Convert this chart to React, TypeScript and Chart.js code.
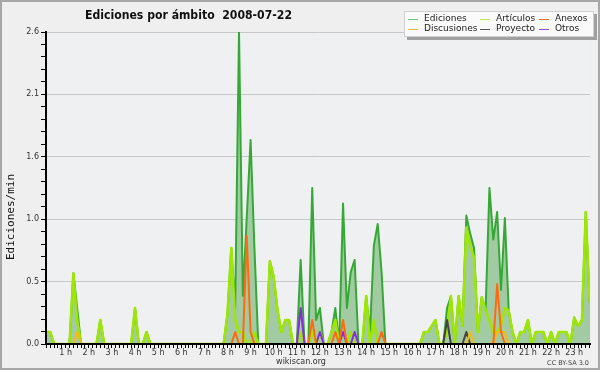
import { useEffect, useRef } from 'react';
import { Chart, registerables } from 'chart.js';
Chart.register(...registerables);

const TITLE = 'Ediciones por ámbito  2008-07-22';
const Y_TITLE = 'Ediciones/min';
const FOOTER = 'wikiscan.org';
const LICENSE = 'CC BY-SA 3.0';

const hourLabels = ['0 h', '1 h', '2 h', '3 h', '4 h', '5 h', '6 h', '7 h', '8 h', '9 h', '10 h', '11 h',
  '12 h', '13 h', '14 h', '15 h', '16 h', '17 h', '18 h', '19 h', '20 h', '21 h', '22 h', '23 h'];

const Y_MAX = 2.6;

// Edits per minute in 10-minute slots (6 per hour, 144 per day)
const ediciones = [
  0.1, 0.1, 0.1, 0, 0, 0, 0, 0, 0.59, 0.3, 0, 0,
  0, 0, 0, 0.2, 0, 0, 0, 0, 0, 0, 0, 0,
  0.3, 0, 0, 0.1, 0, 0, 0, 0, 0, 0, 0, 0,
  0, 0, 0, 0, 0, 0, 0, 0, 0, 0, 0, 0,
  0.25, 0.8, 0.3, 2.6, 0.4, 1.05, 1.7, 0.8, 0, 0, 0, 0.69,
  0.56, 0.28, 0.1, 0.2, 0.2, 0, 0, 0.7, 0, 0, 1.3, 0.2,
  0.3, 0, 0, 0.1, 0.3, 0, 1.17, 0.3, 0.6, 0.7, 0, 0,
  0.4, 0.1, 0.82, 1.0, 0.6, 0, 0, 0, 0, 0, 0, 0,
  0, 0, 0, 0.1, 0.1, 0.15, 0.2, 0, 0, 0.3, 0.4, 0,
  0.4, 0.15, 1.07, 0.92, 0.8, 0.1, 0.39, 0.28, 1.3, 0.87, 1.1, 0.45,
  1.05, 0.28, 0.1, 0, 0.1, 0.1, 0.2, 0, 0.1, 0.1, 0.1, 0,
  0.1, 0, 0.1, 0.1, 0.1, 0, 0.22, 0.15, 0.2, 1.1, 0.35, 0.3,
];

const articulos = [
  0.1, 0.1, 0.1, 0, 0, 0, 0, 0, 0.59, 0.2, 0, 0,
  0, 0, 0, 0.2, 0, 0, 0, 0, 0, 0, 0, 0,
  0.3, 0, 0, 0.1, 0, 0, 0, 0, 0, 0, 0, 0,
  0, 0, 0, 0, 0, 0, 0, 0, 0, 0, 0, 0,
  0.25, 0.8, 0.2, 0.1, 0.1, 0, 0, 0.1, 0, 0, 0, 0.69,
  0.56, 0.28, 0.1, 0.2, 0.2, 0, 0, 0.1, 0, 0, 0.1, 0,
  0.1, 0, 0, 0.1, 0.2, 0, 0.1, 0, 0.1, 0, 0, 0,
  0.4, 0, 0.2, 0, 0, 0, 0, 0, 0, 0, 0, 0,
  0, 0, 0, 0.1, 0.1, 0.15, 0.2, 0, 0, 0.1, 0.4, 0,
  0.4, 0.15, 0.97, 0.82, 0.72, 0.1, 0.39, 0.28, 0.2, 0.1, 0.1, 0.15,
  0.3, 0.28, 0.1, 0, 0.1, 0.1, 0.2, 0, 0.1, 0.1, 0.1, 0,
  0.1, 0, 0.1, 0.1, 0.1, 0, 0.22, 0.15, 0.2, 1.1, 0.35, 0.3,
];

const anexos = [
  0, 0, 0, 0, 0, 0, 0, 0, 0, 0, 0, 0,
  0, 0, 0, 0, 0, 0, 0, 0, 0, 0, 0, 0,
  0, 0, 0, 0, 0, 0, 0, 0, 0, 0, 0, 0,
  0, 0, 0, 0, 0, 0, 0, 0, 0, 0, 0, 0,
  0, 0, 0.1, 0, 0, 0.9, 0.1, 0, 0, 0, 0, 0,
  0, 0, 0, 0, 0, 0, 0, 0, 0, 0, 0.2, 0,
  0, 0, 0, 0, 0.1, 0, 0.2, 0, 0, 0, 0, 0,
  0, 0, 0, 0, 0.1, 0, 0, 0, 0, 0, 0, 0,
  0, 0, 0, 0, 0, 0, 0, 0, 0, 0, 0, 0,
  0, 0, 0, 0, 0, 0, 0, 0, 0, 0, 0.5, 0.1,
  0, 0, 0, 0, 0, 0, 0, 0, 0, 0, 0, 0,
  0, 0, 0, 0, 0, 0, 0, 0, 0, 0, 0, 0,
];

const discusiones = [
  0, 0, 0, 0, 0, 0, 0, 0, 0, 0.1, 0, 0,
  0, 0, 0, 0, 0, 0, 0, 0, 0, 0, 0, 0,
  0, 0, 0, 0, 0, 0, 0, 0, 0, 0, 0, 0,
  0, 0, 0, 0, 0, 0, 0, 0, 0, 0, 0, 0,
  0, 0, 0, 0, 0, 0, 0, 0, 0, 0, 0, 0,
  0, 0, 0, 0, 0, 0, 0, 0, 0, 0, 0, 0,
  0, 0, 0, 0, 0, 0, 0, 0, 0, 0, 0, 0,
  0, 0, 0, 0, 0, 0, 0, 0, 0, 0, 0, 0,
  0, 0, 0, 0, 0, 0, 0, 0, 0, 0, 0, 0,
  0, 0, 0, 0.1, 0, 0, 0, 0, 0, 0, 0.1, 0.1,
  0.1, 0, 0, 0, 0, 0, 0, 0, 0, 0, 0, 0,
  0, 0, 0, 0, 0, 0, 0, 0, 0, 0, 0, 0,
];

const proyecto = [
  0, 0, 0, 0, 0, 0, 0, 0, 0, 0, 0, 0,
  0, 0, 0, 0, 0, 0, 0, 0, 0, 0, 0, 0,
  0, 0, 0, 0, 0, 0, 0, 0, 0, 0, 0, 0,
  0, 0, 0, 0, 0, 0, 0, 0, 0, 0, 0, 0,
  0, 0, 0, 0, 0, 0, 0, 0, 0, 0, 0, 0,
  0, 0, 0, 0, 0, 0, 0, 0, 0, 0, 0, 0,
  0, 0, 0, 0, 0, 0, 0, 0, 0, 0, 0, 0,
  0, 0, 0, 0, 0, 0, 0, 0, 0, 0, 0, 0,
  0, 0, 0, 0, 0, 0, 0, 0, 0, 0.2, 0, 0,
  0, 0, 0.1, 0, 0, 0, 0, 0, 0, 0, 0, 0,
  0, 0, 0, 0, 0, 0, 0, 0, 0, 0, 0, 0,
  0, 0, 0, 0, 0, 0, 0, 0, 0, 0, 0, 0,
];

const otros = [
  0, 0, 0, 0, 0, 0, 0, 0, 0, 0, 0, 0,
  0, 0, 0, 0, 0, 0, 0, 0, 0, 0, 0, 0,
  0, 0, 0, 0, 0, 0, 0, 0, 0, 0, 0, 0,
  0, 0, 0, 0, 0, 0, 0, 0, 0, 0, 0, 0,
  0, 0, 0, 0, 0, 0, 0, 0, 0, 0, 0, 0,
  0, 0, 0, 0, 0, 0, 0, 0.3, 0, 0, 0, 0,
  0.1, 0, 0, 0, 0, 0, 0.1, 0, 0, 0.1, 0, 0,
  0, 0, 0, 0, 0, 0, 0, 0, 0, 0, 0, 0,
  0, 0, 0, 0, 0, 0, 0, 0, 0, 0, 0, 0,
  0, 0, 0, 0, 0, 0, 0, 0, 0, 0, 0, 0,
  0, 0, 0, 0, 0, 0, 0, 0, 0, 0, 0, 0,
  0, 0, 0, 0, 0, 0, 0, 0, 0, 0, 0, 0,
];

// slot start time in hours
const slotHours = ediciones.map((_, i) => i / 6);

const seriesNames = ['Ediciones', 'Artículos', 'Anexos', 'Discusiones', 'Proyecto', 'Otros'];
const seriesColors = ['#36a836', '#9fe600', '#ff6a10', '#f5bb10', '#444444', '#8a2be2'];
const legendColors = ['#7cc47c', '#c2ea50', '#ee7a40', '#f0c440', '#555555', '#9a55ee'];

const decorPlugin = {
  id: 'decor',
  beforeDraw(chart: any) {
    const { ctx, chartArea: a } = chart;
    ctx.save();
    ctx.fillStyle = '#efefef';
    ctx.fillRect(0, 0, chart.width, chart.height);
    ctx.fillStyle = '#eef0f2';
    ctx.fillRect(a.left, a.top, a.right - a.left, a.bottom - a.top);
    ctx.restore();
  },
  afterDraw(chart: any) {
    const ctx = chart.ctx;
    ctx.save();
    // title
    ctx.fillStyle = '#111';
    ctx.font = 'bold 12px "DejaVu Sans"';
    ctx.textBaseline = 'alphabetic';
    ctx.textAlign = 'left';
    const w = ctx.measureText(TITLE).width;
    ctx.save();
    ctx.translate(85, 18.5);
    ctx.scale(Math.min(1, 207 / w), 1);
    ctx.fillText(TITLE, 0, 0);
    ctx.restore();

    // y title
    ctx.save();
    ctx.translate(14, 217);
    ctx.rotate(-Math.PI / 2);
    ctx.font = '11px "DejaVu Sans Mono"';
    ctx.textAlign = 'center';
    ctx.textBaseline = 'alphabetic';
    ctx.fillStyle = '#111';
    ctx.fillText(Y_TITLE, 0, 0);
    ctx.restore();

    // footer
    ctx.font = '8px "DejaVu Sans"';
    ctx.textAlign = 'center';
    ctx.fillStyle = '#333';
    ctx.fillText(FOOTER, 301, 363.5);
    ctx.font = '6.5px "DejaVu Sans"';
    ctx.textAlign = 'right';
    ctx.fillStyle = '#444';
    ctx.fillText(LICENSE, 589, 365);

    // legend
    const lx = 404, ly = 11, lw = 190, lh = 26;
    ctx.fillStyle = '#a0a0a0';
    ctx.fillRect(lx + 3, ly + 3, lw, lh);
    ctx.fillStyle = '#fafafa';
    ctx.fillRect(lx, ly, lw, lh);
    ctx.strokeStyle = '#d0d0d0';
    ctx.lineWidth = 1;
    ctx.strokeRect(lx + 0.5, ly + 0.5, lw - 1, lh - 1);
    const cols = [408, 480, 539];
    const rows = [18.5, 29];
    ctx.font = '9px "DejaVu Sans"';
    ctx.textAlign = 'left';
    ctx.textBaseline = 'middle';
    chart.data.datasets.forEach((ds: any, i: number) => {
      const cx = cols[i % 3];
      const cy = rows[Math.floor(i / 3)];
      ctx.strokeStyle = legendColors[i];
      ctx.lineWidth = 1;
      ctx.beginPath();
      ctx.moveTo(cx, Math.round(cy) + 0.5);
      ctx.lineTo(cx + 10, Math.round(cy) + 0.5);
      ctx.stroke();
      ctx.fillStyle = '#222';
      ctx.fillText(ds.label, cx + 16, cy);
    });

    // frame
    ctx.strokeStyle = '#a8a8a8';
    ctx.lineWidth = 2;
    ctx.strokeRect(1, 1, chart.width - 2, chart.height - 2);
    ctx.restore();
  },
};

export default function App() {
  const ref = useRef<HTMLCanvasElement | null>(null);
  useEffect(() => {
    if (!ref.current) return;
    Chart.defaults.font.family = '"DejaVu Sans", sans-serif';
    const seriesData = [ediciones, articulos, anexos, discusiones, proyecto, otros];
    const chart = new Chart(ref.current, {
      type: 'line',
      data: {
        labels: slotHours,
        datasets: seriesNames.map((name, i) => ({
          label: name,
          data: seriesData[i],
          borderColor: seriesColors[i],
          backgroundColor: i === 0 ? '#a3cba3' : seriesColors[i],
          fill: i === 0 ? 'origin' : false,
          borderWidth: i === 1 ? 2.5 : 2,
          order: i === 0 ? 10 : i === 1 ? 5 : 1,
          pointRadius: 0,
          tension: 0,
          borderJoinStyle: 'round',
        })) as any,
      },
      options: {
        responsive: false,
        animation: false,
        devicePixelRatio: 1,
        layout: { padding: { top: 32, right: 10, left: 0, bottom: 0 } },
        plugins: { legend: { display: false }, tooltip: { enabled: false }, title: { display: false } },
        scales: {
          x: {
            type: 'linear',
            min: 0.15,
            max: 23.683,
            afterFit: (s: any) => { s.height = 26; },
            afterBuildTicks: (s: any) => {
              const t = [];
              for (let k = 1; k <= 142; k++) t.push({ value: k / 6 });
              s.ticks = t;
            },
            ticks: {
              autoSkip: false, maxRotation: 0, minRotation: 0, padding: 0,
              font: { size: 8 }, color: '#333',
              callback: (v: any) => {
                const k = Math.round(Number(v) * 6);
                return k % 6 === 0 ? hourLabels[k / 6] : '';
              },
              z: 1,
            },
            grid: { drawOnChartArea: false, drawTicks: true, tickLength: 4, tickColor: '#000', tickWidth: 1, z: 1 },
            border: { display: true, color: '#000', width: 2, z: 1 },
          },
          y: {
            min: 0,
            max: Y_MAX,
            afterFit: (s: any) => { s.width = 46; },
            afterBuildTicks: (s: any) => {
              const t = [];
              for (let k = 0; k <= 25; k++) t.push({ value: (Y_MAX / 25) * k });
              s.ticks = t;
            },
            ticks: {
              autoSkip: false, padding: 2, font: { size: 8 }, color: '#333',
              callback: (v: any, idx: number) => (idx % 5 === 0 ? Number(v).toFixed(1) : ''),
            },
            grid: {
              color: (c: any) => (c.index % 5 === 0 ? '#c8c8c8' : 'rgba(0,0,0,0)'),
              tickColor: '#000', tickLength: 5, tickWidth: 1,
            },
            border: { display: true, color: '#000', width: 2, z: 1 },
          },
        },
      } as any,
      plugins: [decorPlugin],
    });
    return () => chart.destroy();
  }, []);
  return (
    <div style={{ position: 'fixed', left: 0, top: 0, width: 600, height: 370 }}>
      <canvas ref={ref} width={600} height={370} style={{ display: 'block', width: 600, height: 370 }} />
    </div>
  );
}
